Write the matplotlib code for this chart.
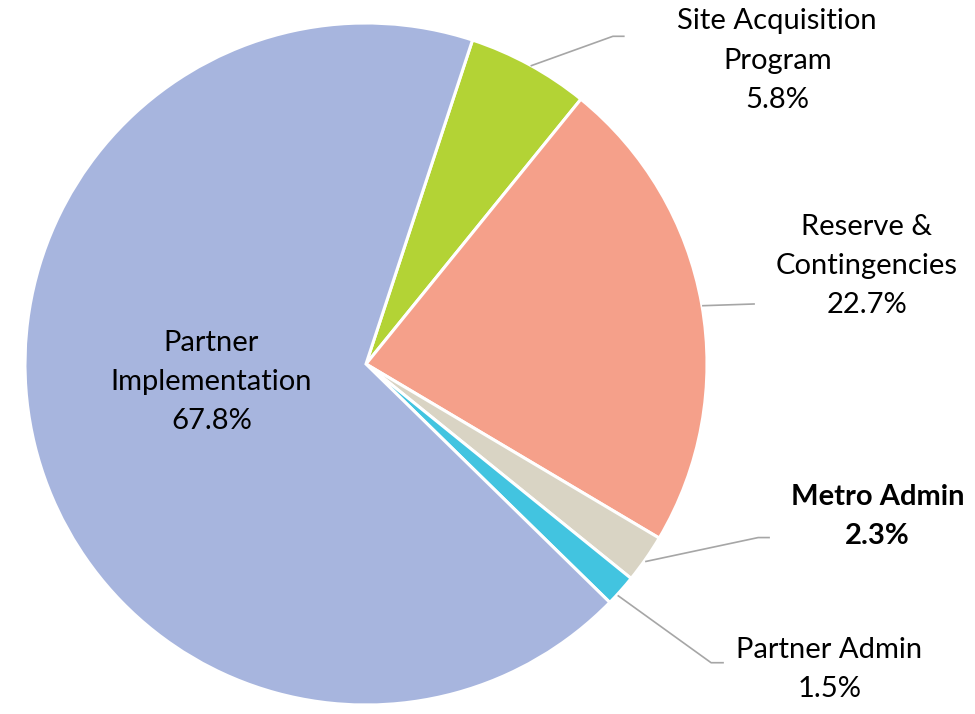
import matplotlib.pyplot as plt

# 데이터 (시계방향, 위쪽에서 약 18도 지점부터)
labels = ['Site Acquisition\nProgram', 'Reserve &\nContingencies', 'Metro Admin',
          'Partner Admin', 'Partner\nImplementation']
values = [5.8, 22.7, 2.3, 1.5, 67.8]
colors = ['#B3D335', '#F5A08A', '#D9D4C4', '#42C4E0', '#A7B5DE']

# 라벨 위치 (data 좌표) 및 리더선
label_xy = [(1.206, 0.89), (1.468, 0.286), (1.5, -0.447), (1.359, -0.895), (-0.453, -0.053)]
leaders = [
    [(0.485, 0.875), (0.724, 0.961), (0.756, 0.961)],
    [(0.988, 0.171), (1.138, 0.176)],
    [(0.821, -0.579), (1.15, -0.509), (1.182, -0.509)],
    [(0.74, -0.68), (1.012, -0.876), (1.047, -0.876)],
    None,
]
bold = [False, False, True, False, False]

plt.rcParams['font.family'] = ['Lato', 'DejaVu Sans']

fig = plt.figure(figsize=(9.75, 7.14), dpi=100)
ax = fig.add_axes([25 / 975, 9 / 714, 682 / 975, 682 / 714])

wedges, _ = ax.pie(values, colors=colors, startangle=90 - 18.2, counterclock=False,
                   radius=1.0, wedgeprops=dict(edgecolor='white', linewidth=2.2))
ax.set_xlim(-1, 1)
ax.set_ylim(-1, 1)
ax.set_aspect('equal')
ax.axis('off')

for lab, v, (x, y), ld, b in zip(labels, values, label_xy, leaders, bold):
    ax.text(x, y, f'{lab}\n{v}%', ha='center', va='center', fontsize=21,
            fontweight='bold' if b else 'normal', linespacing=1.62, clip_on=False,
            color='black')
    if ld:
        xs = [p[0] for p in ld]
        ys = [p[1] for p in ld]
        ax.plot(xs, ys, color='#A6A6A6', linewidth=1.2, clip_on=False)

fig.savefig('out.png', dpi=100)
